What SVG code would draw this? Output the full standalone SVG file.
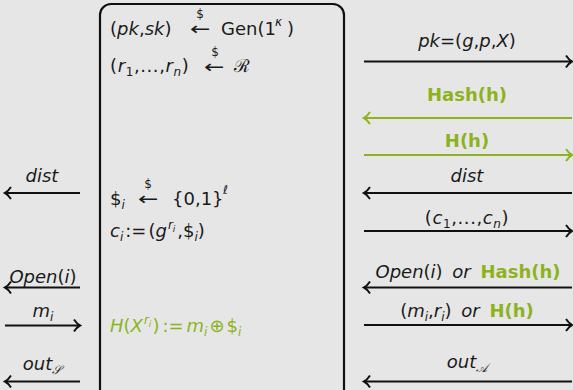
<svg xmlns="http://www.w3.org/2000/svg" width="573" height="390" viewBox="0 0 573 390">
<defs>
<style>
text{font-family:"DejaVu Sans","Liberation Sans",sans-serif;font-size:18px;fill:#1a1a1a}
.it{font-style:italic}
.g{fill:#8cb31e}
.b{font-weight:bold}
.sm{font-size:12px}
.xs{font-size:9px}
.c{text-anchor:middle}
.ln{stroke:#111;stroke-width:2;fill:none}
.lg{stroke:#8cb31e;stroke-width:2;fill:none}
</style>
<marker id="ab" viewBox="-8 -8 16 16" refX="0" refY="0" markerWidth="16" markerHeight="16" markerUnits="userSpaceOnUse" orient="auto" overflow="visible">
<path d="M-6,-6 Q-3,-1.5 0,0 Q-3,1.5 -6,6" fill="none" stroke="#111" stroke-width="2"/>
</marker>
<marker id="ag" viewBox="-8 -8 16 16" refX="0" refY="0" markerWidth="16" markerHeight="16" markerUnits="userSpaceOnUse" orient="auto" overflow="visible">
<path d="M-6,-6 Q-3,-1.5 0,0 Q-3,1.5 -6,6" fill="none" stroke="#8cb31e" stroke-width="2"/>
</marker>
</defs>
<rect width="573" height="390" fill="#e6e6e6"/>

<g id="server">
<rect x="100" y="4" width="244" height="410" rx="11" fill="#e6e6e6" stroke="#111" stroke-width="2.2"/>
<text x="110" y="35">(<tspan class="it">pk</tspan>,<tspan class="it">sk</tspan>)</text>
<text transform="translate(190,35) scale(1.35,1)">←</text><text x="200" y="18" class="sm c">$</text>
<text x="221" y="35">Gen(1</text><text x="275" y="26" class="sm it">κ</text><text x="287" y="35">)</text>

<text x="110" y="72" letter-spacing="0.6">(<tspan class="it">r</tspan><tspan class="sm" dy="4">1</tspan><tspan dy="-4">,...,</tspan><tspan class="it">r</tspan><tspan class="sm it" dy="4">n</tspan><tspan dy="-4">)</tspan></text>
<text transform="translate(204,73) scale(1.35,1)">←</text><text x="215" y="56" class="sm c">$</text>
<text x="234" y="72" style="font-family:'DejaVu Serif',serif">ℛ</text>

<text x="110" y="205">$<tspan class="sm it" dy="4">i</tspan></text>
<text transform="translate(138,205) scale(1.35,1)">←</text><text x="148" y="188" class="sm c">$</text>
<text x="172" y="205">{0,1}</text><text x="223" y="194" class="sm it">ℓ</text>

<text x="110" y="237"><tspan class="it">c</tspan><tspan class="sm it" dy="4">i</tspan><tspan dy="-4" dx="2">:=</tspan><tspan dx="2">(</tspan><tspan class="it">g</tspan><tspan class="sm it" dy="-8" dx="1">r</tspan><tspan class="xs it" dy="3">i</tspan><tspan dy="5" dx="2">,$</tspan><tspan class="sm it" dy="4">i</tspan><tspan dy="-4">)</tspan></text>

<text x="110" y="332" class="g"><tspan class="it">H</tspan>(<tspan class="it">X</tspan><tspan class="sm it" dy="-8" dx="1">r</tspan><tspan class="xs it" dy="3">i</tspan><tspan dy="5" dx="1">)</tspan><tspan dx="3">:=</tspan><tspan class="it" dx="3">m</tspan><tspan class="sm it" dy="4">i</tspan><tspan dy="-4" dx="2">⊕</tspan><tspan dx="2">$</tspan><tspan class="sm it" dy="4">i</tspan></text>
</g>

<g id="connectors">
<line x1="364" y1="61.5" x2="572" y2="61.5" class="ln" marker-end="url(#ab)"/>
<line x1="572" y1="118" x2="364" y2="118" class="lg" marker-end="url(#ag)"/>
<line x1="364" y1="155" x2="572" y2="155" class="lg" marker-end="url(#ag)"/>
<line x1="572" y1="193" x2="364" y2="193" class="ln" marker-end="url(#ab)"/>
<line x1="364" y1="231" x2="572" y2="231" class="ln" marker-end="url(#ab)"/>
<line x1="572" y1="287.5" x2="364" y2="287.5" class="ln" marker-end="url(#ab)"/>
<line x1="364" y1="325" x2="572" y2="325" class="ln" marker-end="url(#ab)"/>
<line x1="572" y1="381.5" x2="364" y2="381.5" class="ln" marker-end="url(#ab)"/>

<line x1="80" y1="193" x2="5" y2="193" class="ln" marker-end="url(#ab)"/>
<line x1="80" y1="287.5" x2="5" y2="287.5" class="ln" marker-end="url(#ab)"/>
<line x1="5" y1="325.5" x2="80" y2="325.5" class="ln" marker-end="url(#ab)"/>
<line x1="80" y1="381.5" x2="5" y2="381.5" class="ln" marker-end="url(#ab)"/>
</g>

<g id="labels">
<text x="467" y="47" class="c"><tspan class="it">pk</tspan>=(<tspan class="it">g</tspan>,<tspan class="it">p</tspan>,<tspan class="it">X</tspan>)</text>
<text x="467" y="101" class="c g b">Hash(h)</text>
<text x="467" y="147" class="c g b">H(h)</text>
<text x="467" y="182" class="c it">dist</text>
<text x="467" y="224" class="c" letter-spacing="0.6">(<tspan class="it">c</tspan><tspan class="sm" dy="4">1</tspan><tspan dy="-4">,...,</tspan><tspan class="it">c</tspan><tspan class="sm it" dy="4">n</tspan><tspan dy="-4">)</tspan></text>
<text x="468" y="278" class="c" word-spacing="4"><tspan class="it">Open</tspan>(<tspan class="it">i</tspan>) <tspan class="it">or</tspan> <tspan class="g b">Hash(h)</tspan></text>
<text x="467" y="317" class="c" word-spacing="4">(<tspan class="it">m</tspan><tspan class="sm it" dy="4">i</tspan><tspan dy="-4">,</tspan><tspan class="it">r</tspan><tspan class="sm it" dy="4">i</tspan><tspan dy="-4">) </tspan><tspan class="it">or</tspan> <tspan class="g b">H(h)</tspan></text>
<text x="467" y="368" class="c"><tspan class="it">out</tspan><tspan class="sm it" dy="4" style="font-family:'DejaVu Serif',serif">𝒜</tspan></text>

<text x="42" y="182" class="c it">dist</text>
<text x="43" y="283" class="c"><tspan class="it">Open</tspan>(<tspan class="it">i</tspan>)</text>
<text x="43" y="317" class="c it">m<tspan class="sm" dy="4">i</tspan></text>
<text x="42" y="370" class="c"><tspan class="it">out</tspan><tspan class="sm it" dy="4" style="font-family:'DejaVu Serif',serif">𝒮</tspan></text>
</g>
</svg>
